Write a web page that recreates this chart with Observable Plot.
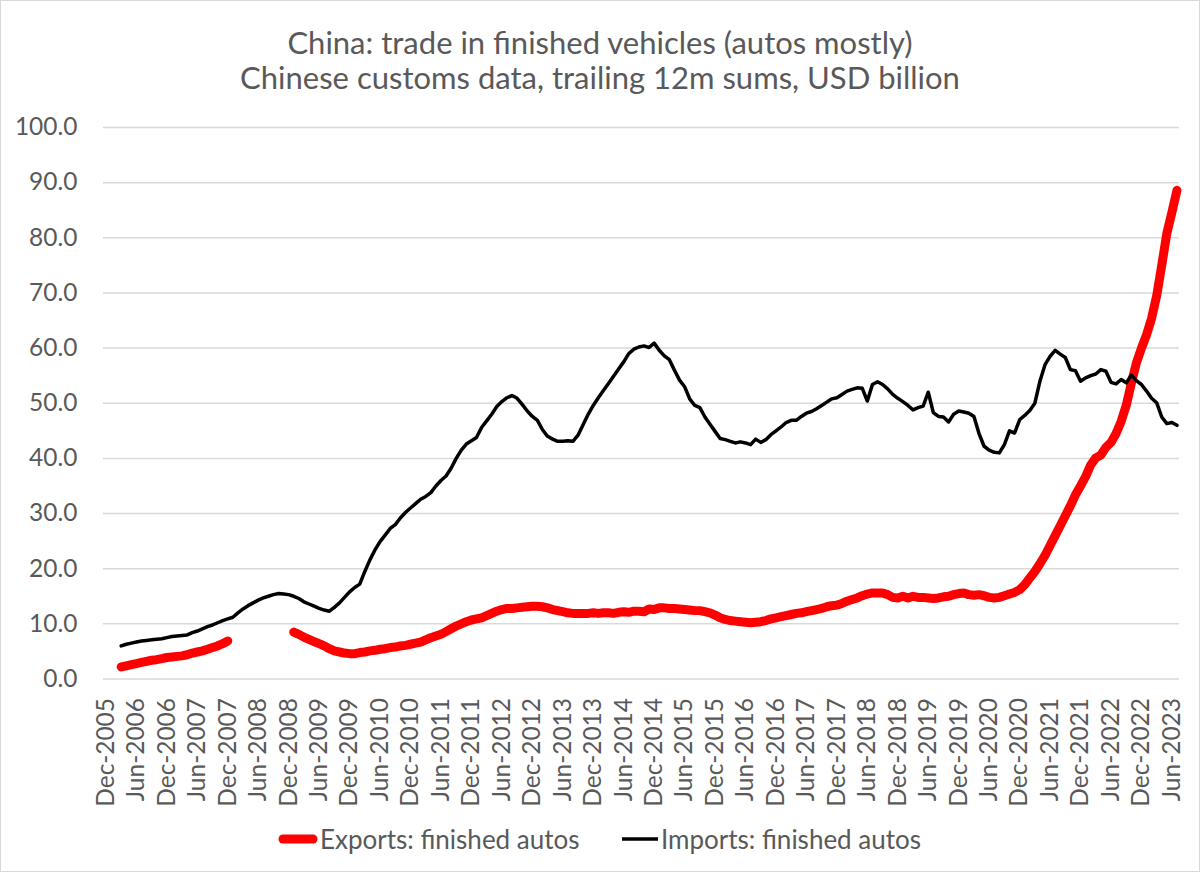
<!DOCTYPE html>
<html>
<head>
<meta charset="utf-8">
<script src="https://cdn.jsdelivr.net/npm/d3@7"></script>
<script src="https://cdn.jsdelivr.net/npm/@observablehq/plot@0.6"></script>
<style>
  html, body { margin: 0; padding: 0; background: #fff; }
  #chart {
    position: relative; width: 1200px; height: 872px; box-sizing: border-box;
    border: 1px solid #d9d9d9; background: #fff; overflow: hidden;
    font-family: Lato, "Open Sans", sans-serif; color: #595959;
  }
  .title { position: absolute; left: 0; width: 100%; text-align: center; font-size: 31px; line-height: 40px; white-space: nowrap; }
  #plot { position: absolute; left: -1px; top: 99px; }
  .legend-item { position: absolute; top: 820px; height: 36px; display: flex; align-items: center; font-size: 26px; white-space: nowrap; }
</style>
</head>
<body>
<div id="chart">
  <div class="title" style="top:21px">China: trade in finished vehicles (autos mostly)</div>
  <div class="title" style="top:56px">Chinese customs data, trailing 12m sums, USD billion</div>
  <div id="plot"></div>
  <div class="legend-item" style="left:273px">
    <svg width="46" height="14"><line x1="9" y1="7" x2="39" y2="7" stroke="#ff0000" stroke-width="9" stroke-linecap="round"/></svg>
    <span>Exports: finished autos</span>
  </div>
  <div class="legend-item" style="left:619px">
    <svg width="41" height="14"><line x1="2" y1="7" x2="38" y2="7" stroke="#000" stroke-width="3.5"/></svg>
    <span>Imports: finished autos</span>
  </div>
</div>
<script>
// Monthly categories, Dec-2005 through Jul-2023
const fmtMonth = d3.utcFormat("%b-%Y");
const monthLabels = d3.utcMonths(new Date(Date.UTC(2005, 11, 1)), new Date(Date.UTC(2023, 7, 1))).map(fmtMonth);

// Series begin in Mar-2006
const firstMonth = "Mar-2006";

// Imports of finished autos, trailing 12m, USD bn
const importsBn = [
  6.0, 6.3, 6.5, 6.7, 6.9, 7.0, 7.1, 7.2, 7.3, 7.5,
  7.7, 7.8, 7.9, 8.0, 8.4, 8.7, 9.1, 9.5, 9.8, 10.2,
  10.6, 10.9, 11.2, 12.0, 12.7, 13.3, 13.8, 14.3, 14.7, 15.0,
  15.3, 15.5, 15.4, 15.3, 15.0, 14.6, 14.0, 13.6, 13.2, 12.8,
  12.5, 12.3, 13.0, 13.8, 14.8, 15.8, 16.6, 17.2, 19.5, 21.6,
  23.4, 24.9, 26.1, 27.3, 28.0, 29.2, 30.2, 31.0, 31.8, 32.6,
  33.1, 33.8, 35.0, 36.0, 36.8, 38.2, 40.0, 41.5, 42.6, 43.2,
  43.8, 45.6, 46.8, 48.0, 49.4, 50.3, 51.0, 51.4, 50.9, 49.8,
  48.6, 47.6, 46.9, 45.2, 44.0, 43.5, 43.1, 43.1, 43.2, 43.1,
  44.2, 46.1, 48.0, 49.6, 51.0, 52.3, 53.6, 54.9, 56.2, 57.5,
  59.0, 59.8, 60.2, 60.4, 60.1, 60.9, 59.6, 58.6, 57.9, 56.0,
  54.2, 53.0, 50.8, 49.6, 49.2, 47.5, 46.2, 44.9, 43.6, 43.4,
  43.1, 42.8, 43.0, 42.8, 42.5, 43.5, 42.9, 43.4, 44.3, 45.0,
  45.7, 46.5, 46.9, 46.9, 47.6, 48.2, 48.5, 49.0, 49.6, 50.2,
  50.8, 51.0, 51.6, 52.2, 52.5, 52.8, 52.7, 50.4, 53.4, 53.9,
  53.4, 52.6, 51.6, 50.9, 50.3, 49.6, 48.8, 49.2, 49.5, 52.0,
  48.3, 47.6, 47.5, 46.6, 48.0, 48.6, 48.4, 48.2, 47.6, 44.5,
  42.2, 41.5, 41.1, 41.0, 42.5, 45.0, 44.6, 47.0, 47.8, 48.7,
  50.0, 54.0, 57.0, 58.5, 59.6, 58.9, 58.3, 56.1, 55.9, 54.0,
  54.6, 55.0, 55.3, 56.1, 55.8, 53.8, 53.5, 54.3, 53.7, 55.1,
  54.1, 53.4, 52.2, 50.9, 50.1, 47.5, 46.3, 46.5, 46.0
];

// Exports of finished autos, trailing 12m, USD bn (no data Jan-2008 to Dec-2008)
const exportsBn = [
  2.2, 2.4, 2.6, 2.8, 3.0, 3.2, 3.4, 3.5, 3.7, 3.9,
  4.0, 4.1, 4.2, 4.4, 4.7, 4.9, 5.1, 5.4, 5.7, 6.0,
  6.4, 6.9,
  null, null, null, null, null, null, null, null, null, null, null, null,
  8.5, 8.1, 7.6, 7.2, 6.8, 6.4, 6.0, 5.5, 5.1, 4.9,
  4.7, 4.6, 4.6, 4.8, 4.9, 5.1, 5.2, 5.4, 5.5, 5.7,
  5.8, 6.0, 6.1, 6.3, 6.5, 6.7, 7.1, 7.5, 7.8, 8.1,
  8.6, 9.1, 9.6, 10.0, 10.4, 10.7, 10.9, 11.1, 11.5, 11.9,
  12.3, 12.6, 12.8, 12.8, 12.9, 13.0, 13.1, 13.2, 13.2, 13.1,
  12.9, 12.6, 12.4, 12.2, 12.0, 11.9, 11.9, 11.9, 11.9, 12.0,
  11.9, 12.0, 12.0, 11.9, 12.1, 12.2, 12.1, 12.3, 12.3, 12.2,
  12.7, 12.6, 12.9, 12.9, 12.8, 12.8, 12.7, 12.6, 12.5, 12.4,
  12.4, 12.2, 12.0, 11.6, 11.1, 10.8, 10.6, 10.5, 10.4, 10.3,
  10.2, 10.3, 10.4, 10.6, 10.9, 11.1, 11.3, 11.5, 11.7, 11.9,
  12.0, 12.2, 12.4, 12.6, 12.8, 13.1, 13.3, 13.4, 13.7, 14.1,
  14.4, 14.7, 15.1, 15.4, 15.6, 15.6, 15.6, 15.3, 14.8, 14.7,
  15.0, 14.7, 15.0, 14.8, 14.8, 14.7, 14.6, 14.7, 14.9, 15.0,
  15.3, 15.5, 15.6, 15.3, 15.2, 15.3, 15.1, 14.8, 14.7, 14.8,
  15.1, 15.4, 15.7, 16.2, 17.1, 18.3, 19.5, 20.9, 22.4, 24.2,
  26.0, 27.8, 29.6, 31.4, 33.4, 35.0, 36.7, 38.8, 40.1, 40.6,
  42.0, 42.9, 44.5, 46.7, 49.6, 53.6, 57.3, 60.0, 62.4, 65.4,
  69.5, 75.0, 80.8, 84.6, 88.6
];

// Axis ticks: every 10 on y, every sixth month on x
const yTicks = d3.range(0, 101, 10);
const xTicks = monthLabels.filter((d, i) => i % 6 === 0);

const offset = monthLabels.indexOf(firstMonth);
const rows = importsBn.map((v, k) => ({
  month: monthLabels[offset + k],
  imports: v,
  exports: exportsBn[k]
}));

const textColor = "#595959";

const chart = Plot.plot({
  width: 1200,
  height: 710,
  marginLeft: 103,
  marginRight: 20,
  marginTop: 27,
  marginBottom: 131,
  style: { fontFamily: "Lato, 'Open Sans', sans-serif", fontSize: "24.5px", color: textColor, background: "transparent" },
  x: { type: "point", domain: monthLabels, padding: 0.5, round: false, label: null },
  y: { domain: [0, 100], label: null },
  marks: [
    Plot.gridY(yTicks, { stroke: "#d9d9d9", strokeOpacity: 1, strokeWidth: 1.5 }),
    Plot.axisY(yTicks, { tickSize: 0, tickPadding: 26, tickFormat: d3.format(".1f"), fill: textColor, label: null }),
    Plot.axisX(xTicks, { tickSize: 0, tickPadding: 19, tickRotate: -90, fill: textColor, label: null }),
    Plot.line(rows, { x: "month", y: "exports", stroke: "#ff0000", strokeWidth: 9, strokeLinecap: "round", strokeLinejoin: "round" }),
    Plot.line(rows, { x: "month", y: "imports", stroke: "#000000", strokeWidth: 3.5, strokeLinejoin: "round" })
  ]
});

document.getElementById("plot").appendChild(chart);
</script>
</body>
</html>
